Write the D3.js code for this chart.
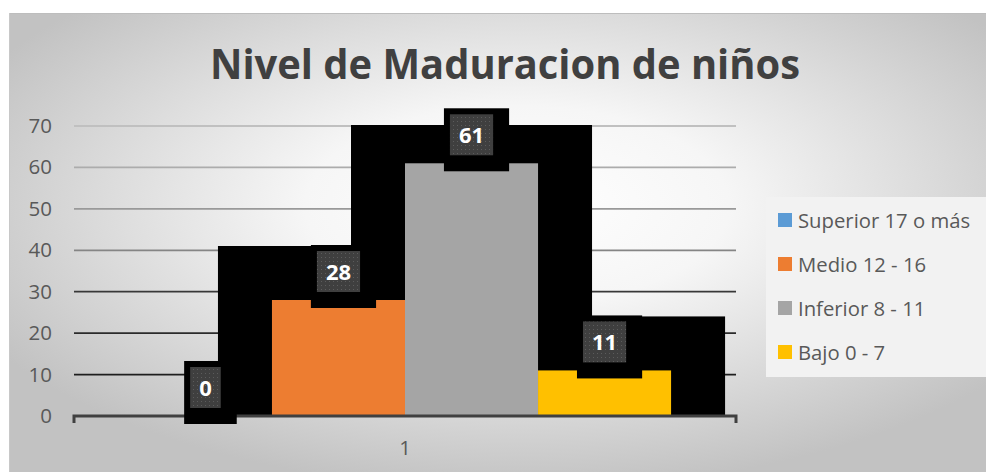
<!DOCTYPE html>
<html>
<head>
<meta charset="utf-8">
<script src="https://cdn.jsdelivr.net/npm/d3@7"></script>
<style>
  html, body { margin: 0; padding: 0; background: #fff; }
  svg { display: block; font-family: "Open Sans", sans-serif; }
</style>
</head>
<body>
<div id="chart"></div>
<script>
const categories = ["1"];
const series = ["Superior 17 o más", "Medio 12 - 16", "Inferior 8 - 11", "Bajo 0 - 7"];
const values = [0, 28, 61, 11];
const seriesColors = ["#5b9bd5", "#ed7d31", "#a5a5a5", "#ffc000"];
const yTicks = [0, 10, 20, 30, 40, 50, 60, 70];
const chartTitle = "Nivel de Maduracion de niños";

const width = 986;
const height = 472;
const plot = { left: 74, right: 736, top: 126, bottom: 416 };

const svg = d3
  .select("#chart")
  .append("svg")
  .attr("width", width)
  .attr("height", height);

const defs = svg.append("defs");

// background gradient, white in the middle and grey at the corners
const bg = defs
  .append("radialGradient")
  .attr("id", "bgGrad")
  .attr("cx", "52%")
  .attr("cy", "42%")
  .attr("r", "62%");
bg.append("stop").attr("offset", "0%").attr("stop-color", "#ffffff");
bg.append("stop").attr("offset", "35%").attr("stop-color", "#f6f6f6");
bg.append("stop").attr("offset", "100%").attr("stop-color", "#c2c2c2");

// dotted pattern for data label boxes
const pat = defs
  .append("pattern")
  .attr("id", "dots")
  .attr("patternUnits", "userSpaceOnUse")
  .attr("width", 4)
  .attr("height", 4);
pat.append("rect").attr("width", 4).attr("height", 4).attr("fill", "#3f3f3f");
pat.append("rect").attr("x", 1).attr("y", 1).attr("width", 1).attr("height", 1).attr("fill", "#5c5c5c");

defs
  .append("clipPath")
  .attr("id", "plotClip")
  .append("rect")
  .attr("x", plot.left)
  .attr("y", plot.top - 1)
  .attr("width", plot.right - plot.left)
  .attr("height", plot.bottom - plot.top + 1);

// chart area
svg
  .append("rect")
  .attr("x", 9)
  .attr("y", 13)
  .attr("width", width - 9)
  .attr("height", height - 13)
  .attr("fill", "url(#bgGrad)");
svg
  .append("line")
  .attr("x1", 9)
  .attr("x2", width)
  .attr("y1", 13.5)
  .attr("y2", 13.5)
  .attr("stroke", "#bdbdbd")
  .attr("stroke-width", 1);
svg
  .append("line")
  .attr("x1", 9.5)
  .attr("x2", 9.5)
  .attr("y1", 13)
  .attr("y2", height)
  .attr("stroke", "#c8c8c8")
  .attr("stroke-width", 1);

// title
svg
  .append("text")
  .attr("x", 505)
  .attr("y", 79)
  .attr("text-anchor", "middle")
  .attr("font-size", "42px")
  .attr("font-weight", "bold")
  .attr("fill", "#404040")
  .attr("textLength", 590)
  .attr("lengthAdjust", "spacingAndGlyphs")
  .text(chartTitle);

// scales
const y = d3.scaleLinear().domain([0, 70]).range([plot.bottom, plot.top]);

const x0 = d3
  .scaleBand()
  .domain(categories)
  .range([plot.left, plot.right])
  .paddingInner(0)
  .paddingOuter(0.122);

const x1 = d3
  .scaleBand()
  .domain(series)
  .range([0, x0.bandwidth()]);

const gridColor = d3
  .scaleLinear()
  .domain([10, 30, 40, 70])
  .range(["#1e1e1e", "#383838", "#858585", "#c0c0c0"]);

// gridlines
svg
  .append("g")
  .selectAll("line")
  .data(yTicks.filter((d) => d > 0))
  .enter()
  .append("line")
  .attr("x1", plot.left)
  .attr("x2", plot.right)
  .attr("y1", (d) => y(d))
  .attr("y2", (d) => y(d))
  .attr("stroke", (d) => gridColor(d))
  .attr("stroke-width", 1.8);

// y axis labels
const yAxis = d3
  .axisLeft(y)
  .tickValues(yTicks)
  .tickSize(0)
  .tickPadding(0);

const yAxisG = svg
  .append("g")
  .attr("transform", `translate(52,0)`)
  .call(yAxis);
yAxisG.select(".domain").remove();
yAxisG
  .selectAll("text")
  .attr("font-family", "Open Sans")
  .attr("font-size", "20.5px")
  .attr("fill", "#595959");

const data = series.map((s, i) => ({ name: s, value: values[i], color: seriesColors[i] }));

// bar shadows (black glow, clipped to plot area)
const shadowSize = 54;
svg
  .append("g")
  .attr("clip-path", "url(#plotClip)")
  .selectAll("rect")
  .data(data.filter((d) => d.value > 0))
  .enter()
  .append("rect")
  .attr("x", (d) => x0("1") + x1(d.name) - shadowSize)
  .attr("y", (d) => y(d.value) - shadowSize)
  .attr("width", x1.bandwidth() + 2 * shadowSize)
  .attr("height", (d) => y(0) - y(d.value) + 2 * shadowSize)
  .attr("fill", "#000");

// bars
svg
  .append("g")
  .selectAll("rect")
  .data(data)
  .enter()
  .append("rect")
  .attr("x", (d) => x0("1") + x1(d.name))
  .attr("y", (d) => y(d.value))
  .attr("width", x1.bandwidth())
  .attr("height", (d) => y(0) - y(d.value))
  .attr("fill", (d) => d.color);

// x axis line with end ticks
const xAxis = d3.axisBottom(x0).tickSize(0).tickPadding(0);
const xAxisG = svg
  .append("g")
  .attr("transform", `translate(0,${plot.bottom})`)
  .call(xAxis);
xAxisG.select(".domain").remove();
xAxisG
  .selectAll("text")
  .attr("y", 39)
  .attr("dy", 0)
  .attr("font-family", "Open Sans")
  .attr("font-size", "20.5px")
  .attr("fill", "#595959");

svg
  .append("path")
  .attr(
    "d",
    `M${plot.left},${plot.bottom + 7}V${plot.bottom}H${plot.right}V${plot.bottom + 7}`
  )
  .attr("fill", "none")
  .attr("stroke", "#404040")
  .attr("stroke-width", 3);

// data labels
const labels = svg
  .append("g")
  .selectAll("g")
  .data(data)
  .enter()
  .append("g");

labels.each(function (d) {
  const g = d3.select(this);
  const cx = x0("1") + x1(d.name) + x1.bandwidth() / 2;
  const boxBottom = y(d.value) - 8;
  const boxH = 41;

  const shadow = g.append("rect").attr("fill", "#000");
  const box = g.append("rect").attr("fill", "url(#dots)");
  const t = g
    .append("text")
    .attr("x", cx)
    .attr("y", boxBottom - boxH / 2 + 8)
    .attr("text-anchor", "middle")
    .attr("font-size", "22px")
    .attr("font-weight", "bold")
    .attr("fill", "#fff")
    .text(d.value);

  const tw = t.node().getComputedTextLength();
  const boxW = tw + 18;
  box
    .attr("x", cx - boxW / 2)
    .attr("y", boxBottom - boxH)
    .attr("width", boxW)
    .attr("height", boxH);
  shadow
    .attr("x", cx - boxW / 2 - 6)
    .attr("y", boxBottom - boxH - 6)
    .attr("width", boxW + 22)
    .attr("height", boxH + 22);
});

// legend
const legend = svg.append("g");
legend
  .append("rect")
  .attr("x", 766)
  .attr("y", 197)
  .attr("width", width - 766)
  .attr("height", 180)
  .attr("fill", "#f2f2f2");

const legendY = d3
  .scalePoint()
  .domain(series)
  .range([220, 352]);

const items = legend
  .selectAll(".legendItem")
  .data(data)
  .enter()
  .append("g")
  .attr("class", "legendItem")
  .attr("transform", (d) => `translate(778,${legendY(d.name)})`);

items
  .append("rect")
  .attr("x", 0)
  .attr("y", -7)
  .attr("width", 14)
  .attr("height", 14)
  .attr("fill", (d) => d.color);

items
  .append("text")
  .attr("x", 20)
  .attr("y", 7.5)
  .attr("font-size", "20.3px")
  .attr("fill", "#595959")
  .text((d) => d.name);
</script>
</body>
</html>
